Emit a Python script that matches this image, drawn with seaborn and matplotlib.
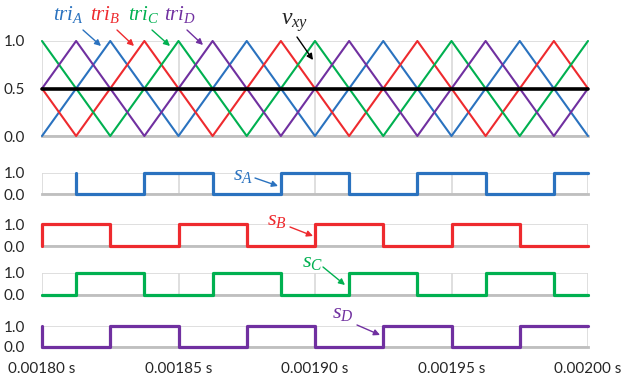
import matplotlib
matplotlib.use("Agg")
import matplotlib.pyplot as plt
import seaborn as sns
import pandas as pd

# carrier sample times (vertices / crossings, every quarter period)
t = [0.0018, 0.0018125, 0.001825, 0.0018375, 0.00185, 0.0018625, 0.001875, 0.0018875,
     0.0019, 0.0019125, 0.001925, 0.0019375, 0.00195, 0.0019625, 0.001975, 0.0019875, 0.002]

tri_a = [0, 0.5, 1, 0.5, 0, 0.5, 1, 0.5, 0, 0.5, 1, 0.5, 0, 0.5, 1, 0.5, 0]
tri_b = [0.5, 0, 0.5, 1, 0.5, 0, 0.5, 1, 0.5, 0, 0.5, 1, 0.5, 0, 0.5, 1, 0.5]
tri_c = [1, 0.5, 0, 0.5, 1, 0.5, 0, 0.5, 1, 0.5, 0, 0.5, 1, 0.5, 0, 0.5, 1]
tri_d = [0.5, 1, 0.5, 0, 0.5, 1, 0.5, 0, 0.5, 1, 0.5, 0, 0.5, 1, 0.5, 0, 0.5]

v_xy_t = [0.0018, 0.0020]
v_xy = [0.5, 0.5]

# switching signals (step points)
sa_t = [0.0018125, 0.0018125, 0.0018375, 0.0018625, 0.0018875, 0.0019125, 0.0019375, 0.0019625, 0.0019875, 0.002]
sa = [1, 0, 1, 0, 1, 0, 1, 0, 1, 1]
sb_t = [0.0018, 0.0018, 0.001825, 0.00185, 0.001875, 0.0019, 0.001925, 0.00195, 0.001975, 0.002]
sb = [0, 1, 0, 1, 0, 1, 0, 1, 0, 0]
sc_t = [0.0018, 0.0018125, 0.0018375, 0.0018625, 0.0018875, 0.0019125, 0.0019375, 0.0019625, 0.0019875, 0.002]
sc = [0, 1, 0, 1, 0, 1, 0, 1, 0, 0]
sd_t = [0.0018, 0.0018, 0.001825, 0.00185, 0.001875, 0.0019, 0.001925, 0.00195, 0.001975, 0.002]
sd = [1, 0, 1, 0, 1, 0, 1, 0, 1, 1]

xticks = [0.0018, 0.00185, 0.0019, 0.00195, 0.0020]
xtick_labels = ["0.00180 s", "0.00185 s", "0.00190 s", "0.00195 s", "0.00200 s"]

blue = "#2A72BF"
red = "#EE2A2E"
green = "#00B050"
purple = "#7030A0"

sns.set_style("white")
plt.rcParams["font.family"] = ["Lato", "DejaVu Sans"]
plt.rcParams["mathtext.fontset"] = "custom"
plt.rcParams["mathtext.it"] = "Liberation Serif:italic"
plt.rcParams["mathtext.rm"] = "Liberation Serif"

W, H = 625, 381
fig = plt.figure(figsize=(W / 100, H / 100), dpi=100)


def px_axes(x0, y0, x1, y1):
    ax = fig.add_axes([x0 / W, 1 - y1 / H, (x1 - x0) / W, (y1 - y0) / H])
    ax.patch.set_alpha(0)
    return ax


def style(ax, yticks, ylabels, bottom=False):
    ax.set_xlim(0.0018, 0.0020)
    ax.set_ylim(0, 1)
    ax.set_xticks(xticks)
    ax.set_xticklabels(xtick_labels if bottom else [])
    ax.set_yticks(yticks)
    ax.set_yticklabels(ylabels)
    ax.grid(True, color="#D9D9D9", lw=1.2)
    ax.set_axisbelow(True)
    for s in ["top", "right", "left"]:
        ax.spines[s].set_visible(False)
    ax.spines["bottom"].set_color("#BFBFBF")
    ax.spines["bottom"].set_linewidth(2)
    ax.spines["bottom"].set_zorder(1)
    ax.tick_params(length=0, labelsize=11, colors="#262626")
    ax.tick_params(axis="y", pad=12)
    ax.tick_params(axis="x", pad=11)
    ax.set_xlabel("")
    ax.set_ylabel("")


# top panel: carriers
ax0 = px_axes(42, 41, 588, 136)
for y, c in [(tri_a, blue), (tri_b, red), (tri_c, green), (tri_d, purple)]:
    sns.lineplot(x=t, y=y, ax=ax0, color=c, lw=1.5, estimator=None, sort=False,
                 clip_on=False, zorder=3)
sns.lineplot(x=v_xy_t, y=v_xy, ax=ax0, color="black", lw=2.6, estimator=None,
             clip_on=False, zorder=4)
style(ax0, [0, 0.5, 1], ["0.0", "0.5", "1.0"])

panels = [
    ((173, 194), sa_t, sa, blue),
    ((224, 246), sb_t, sb, red),
    ((273, 295), sc_t, sc, green),
    ((326, 347), sd_t, sd, purple),
]
for i, ((y0, y1), xs, ys, c) in enumerate(panels):
    ax = px_axes(42, y0, 588, y1)
    df = pd.DataFrame({"t": xs, "s": ys})
    sns.lineplot(data=df, x="t", y="s", ax=ax, color=c, lw=2.3, drawstyle="steps-post",
                 estimator=None, sort=False, clip_on=False, zorder=3)
    style(ax, [0, 1], ["0.0", "1.0"], bottom=(i == 3))


def label(x, y, s, c, size=15):
    fig.text(x / W, 1 - y / H, s, color=c, fontsize=size, ha="left", va="baseline")


def arrow(x1, y1, x2, y2, c):
    fig.add_artist(matplotlib.patches.FancyArrowPatch(
        (x1 / W, 1 - y1 / H), (x2 / W, 1 - y2 / H), transform=fig.transFigure,
        arrowstyle="-|>", color=c, lw=1, mutation_scale=9, shrinkA=0, shrinkB=0))


label(53, 20, r"$tri_A$", blue)
label(90, 20, r"$tri_B$", red)
label(128, 20, r"$tri_C$", green)
label(164, 20, r"$tri_D$", purple)
arrow(83, 30, 101, 46, blue)
arrow(117, 30, 134, 46, red)
arrow(152, 30, 170, 46, green)
arrow(187, 30, 203, 45, purple)

label(281, 25, r"$v_{xy}$", "#262626", size=17)
arrow(297, 37, 313, 60, "black")

label(233, 180, r"$s_A$", blue, size=16)
arrow(255, 178, 278, 186, blue)
label(267, 225, r"$s_B$", red, size=16)
arrow(290, 227, 313, 236, red)
label(302, 267, r"$s_C$", green, size=16)
arrow(323, 267, 345, 285, green)
label(332, 318, r"$s_D$", purple, size=16)
arrow(357, 325, 380, 335, purple)

fig.savefig("out.png", dpi=100)
